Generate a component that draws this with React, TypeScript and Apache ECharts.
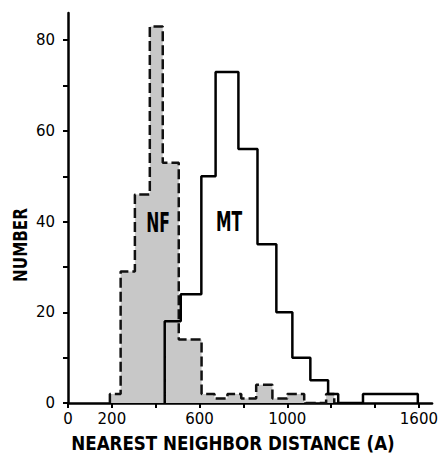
import React, { useEffect, useRef } from "react";
import * as echarts from "echarts";

// Nearest neighbor distance histograms (Å)
const nfEdges = [191, 240, 305, 373, 432, 505, 609, 668, 727, 790, 858, 932, 1000, 1077, 1177, 1214];
const nfCounts = [2, 29, 46, 83, 53, 14, 2, 1, 2, 1, 4, 1, 2, 0, 2];

const mtEdges = [441, 514, 608, 673, 777, 864, 950, 1023, 1105, 1186, 1232, 1345, 1595];
const mtCounts = [18, 24, 50, 73, 56, 35, 20, 10, 5, 2, 0, 2];

const xTicks = [0, 200, 400, 600, 800, 1000, 1200, 1400, 1600];
const xLabels = [0, 200, 600, 1000, 1600];
const yTicks = [0, 10, 20, 30, 40, 50, 60, 70, 80];
const yLabels = [0, 20, 40, 60, 80];

const X_MAX = 1660;
const Y_MAX = 86;

function stepPoints(edges: number[], counts: number[]): number[][] {
  const pts: number[][] = [[edges[0], 0]];
  for (let i = 0; i < counts.length; i++) {
    pts.push([edges[i], counts[i]]);
    pts.push([edges[i + 1], counts[i]]);
  }
  pts.push([edges[edges.length - 1], 0]);
  return pts;
}

export default function App() {
  const ref = useRef<HTMLDivElement>(null);
  useEffect(() => {
    document.body.style.margin = "0";
    if (!ref.current) return;
    const chart = echarts.init(ref.current, null, { renderer: "svg" });
    const titleFont = "DejaVu Sans";
    chart.setOption({
      animation: false,
      backgroundColor: "#ffffff",
      grid: { left: 68, top: 13, width: 365, height: 390, containLabel: false },
      xAxis: {
        type: "value",
        min: 0,
        max: X_MAX,
        axisLine: { show: true, lineStyle: { color: "#000", width: 2.5 } },
        axisTick: {
          show: true,
          customValues: xTicks,
          length: 5,
          inside: false,
          lineStyle: { color: "#000", width: 2 },
        },
        axisLabel: {
          customValues: xLabels,
          formatter: (v: number) => String(v),
          margin: 8,
          color: "#000",
          fontSize: 15,
          fontFamily: "DejaVu Sans",
        },
        splitLine: { show: false },
      },
      yAxis: {
        type: "value",
        min: 0,
        max: Y_MAX,
        axisLine: { show: true, lineStyle: { color: "#000", width: 2.5 } },
        axisTick: {
          show: true,
          customValues: yTicks,
          length: 5,
          lineStyle: { color: "#000", width: 2 },
        },
        axisLabel: {
          customValues: yLabels,
          formatter: (v: number) => String(v),
          margin: 13,
          color: "#000",
          fontSize: 15,
          fontFamily: "DejaVu Sans",
        },
        splitLine: { show: false },
      },
      series: [
        {
          name: "NF",
          type: "line",
          data: stepPoints(nfEdges, nfCounts),
          symbol: "none",
          lineStyle: { color: "#111", width: 2.5, type: [10, 4] },
          areaStyle: { color: "#c8c8c8", opacity: 1 },
          z: 2,
        },
        {
          name: "MT",
          type: "line",
          data: stepPoints(mtEdges, mtCounts),
          symbol: "none",
          lineStyle: { color: "#000", width: 2.5 },
          z: 3,
        },
      ],
      graphic: [
        {
          type: "text",
          x: 158,
          y: 223,
          scaleX: 0.6,
          z: 10,
          style: {
            text: "NF",
            fontSize: 26,
            fontWeight: "bold",
            fontFamily: titleFont,
            fill: "#000",
            align: "center",
            verticalAlign: "middle",
            textAlign: "center",
            textVerticalAlign: "middle",
          },
        },
        {
          type: "text",
          x: 229,
          y: 222,
          scaleX: 0.6,
          z: 10,
          style: {
            text: "MT",
            fontSize: 26,
            fontWeight: "bold",
            fontFamily: titleFont,
            fill: "#000",
            align: "center",
            verticalAlign: "middle",
            textAlign: "center",
            textVerticalAlign: "middle",
          },
        },
        {
          type: "text",
          x: 20,
          y: 245,
          rotation: Math.PI / 2,
          scaleX: 0.8,
          z: 10,
          style: {
            text: "NUMBER",
            fontSize: 19,
            fontWeight: "bold",
            fontFamily: titleFont,
            fill: "#000",
            align: "center",
            verticalAlign: "middle",
            textAlign: "center",
            textVerticalAlign: "middle",
          },
        },
        {
          type: "text",
          x: 233,
          y: 443,
          scaleX: 0.88,
          z: 10,
          style: {
            text: "NEAREST NEIGHBOR DISTANCE (A)",
            fontSize: 19,
            fontWeight: "bold",
            fontFamily: titleFont,
            fill: "#000",
            align: "center",
            verticalAlign: "middle",
            textAlign: "center",
            textVerticalAlign: "middle",
          },
        },
      ],
    });
    return () => chart.dispose();
  }, []);
  return <div ref={ref} style={{ width: 441, height: 456 }} />;
}
